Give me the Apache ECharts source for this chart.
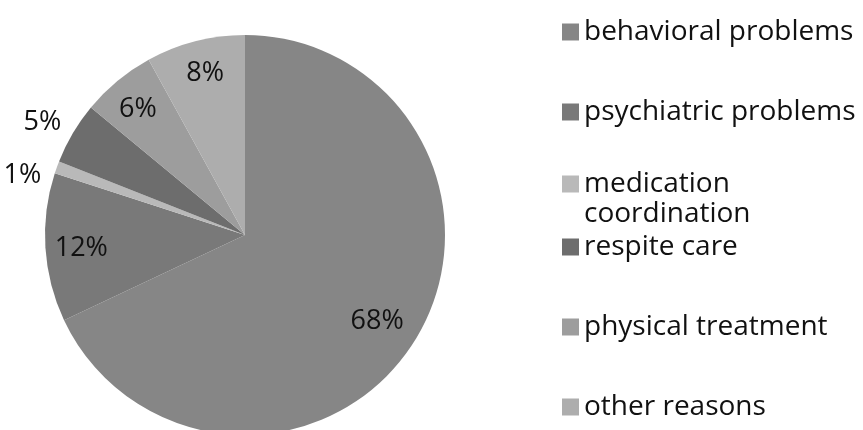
<!DOCTYPE html>
<html>
<head>
<meta charset="utf-8">
<script src="https://cdn.jsdelivr.net/npm/echarts@6/dist/echarts.min.js"></script>
<style>
html,body{margin:0;padding:0;background:#fff;}
#chart{width:863px;height:430px;}
</style>
</head>
<body>
<div id="chart"></div>
<script>
// ---- data ----
const categories = ['behavioral problems', 'psychiatric problems', 'medication coordination', 'respite care', 'physical treatment', 'other reasons'];
const values = [68, 12, 1, 5, 6, 8];
const sliceColors = ['#868686', '#797979', '#b9b9b9', '#6d6d6d', '#9d9d9d', '#adadad'];

// which labels go where (indices)
const midLabelIdx = [0];
const innerLabelIdx = [1, 4, 5];
const outerLabelIdx = [2, 3];
// small label nudges (style only)
const labelNudge = {0: [8, 8], 1: [4, 3], 2: [0, 20], 3: [1, 8], 4: [0, 4], 5: [2, 1]};

const FONT = '"Open Sans", "Liberation Sans", sans-serif';
const CENTER = [245, 235];

function seriesData(showIdx) {
  return categories.map((name, i) => ({
    name: name,
    value: values[i],
    label: { show: showIdx.indexOf(i) >= 0 }
  }));
}

function nudge(p) {
  const n = labelNudge[p.dataIndex];
  return n ? { dx: n[0], dy: n[1] } : {};
}

function labelSeries(radius, showIdx) {
  return {
    type: 'pie',
    center: CENTER,
    radius: radius,
    startAngle: 90,
    clockwise: true,
    silent: true,
    legendHoverLink: false,
    avoidLabelOverlap: false,
    itemStyle: { color: 'rgba(0,0,0,0)', borderWidth: 0 },
    emphasis: { disabled: true },
    labelLine: { show: false },
    label: {
      position: 'inside',
      formatter: '{c}%',
      color: '#111',
      fontFamily: FONT,
      fontSize: 27
    },
    labelLayout: nudge,
    data: seriesData(showIdx)
  };
}

const chart = echarts.init(document.getElementById('chart'), null, { renderer: 'canvas' });

const legendText = { color: '#111', fontFamily: FONT, fontSize: 28, lineHeight: 30 };
const legendBase = {
  orient: 'vertical',
  left: 557,
  itemWidth: 17,
  itemHeight: 17,
  itemGap: 50,
  icon: 'rect',
  selectedMode: false,
  textStyle: legendText
};

chart.setOption({
  animation: false,
  backgroundColor: '#fff',
  color: sliceColors,
  legend: [
    Object.assign({}, legendBase, { top: 12, data: categories.slice(0, 2) }),
    Object.assign({}, legendBase, {
      top: 134,
      data: categories.slice(2, 3),
      formatter: function () { return '\nmedication\ncoordination'; }
    }),
    Object.assign({}, legendBase, { top: 227, data: categories.slice(3) })
  ],
  series: [
    {
      type: 'pie',
      center: CENTER,
      radius: 200,
      startAngle: 90,
      clockwise: true,
      avoidLabelOverlap: false,
      itemStyle: { borderWidth: 0 },
      emphasis: { disabled: true },
      label: { show: false },
      labelLine: { show: false },
      data: categories.map((name, i) => ({ name: name, value: values[i] }))
    },
    labelSeries([88, 200], midLabelIdx),
    labelSeries([130, 200], innerLabelIdx),
    labelSeries([205, 262], outerLabelIdx)
  ]
});
</script>
</body>
</html>
